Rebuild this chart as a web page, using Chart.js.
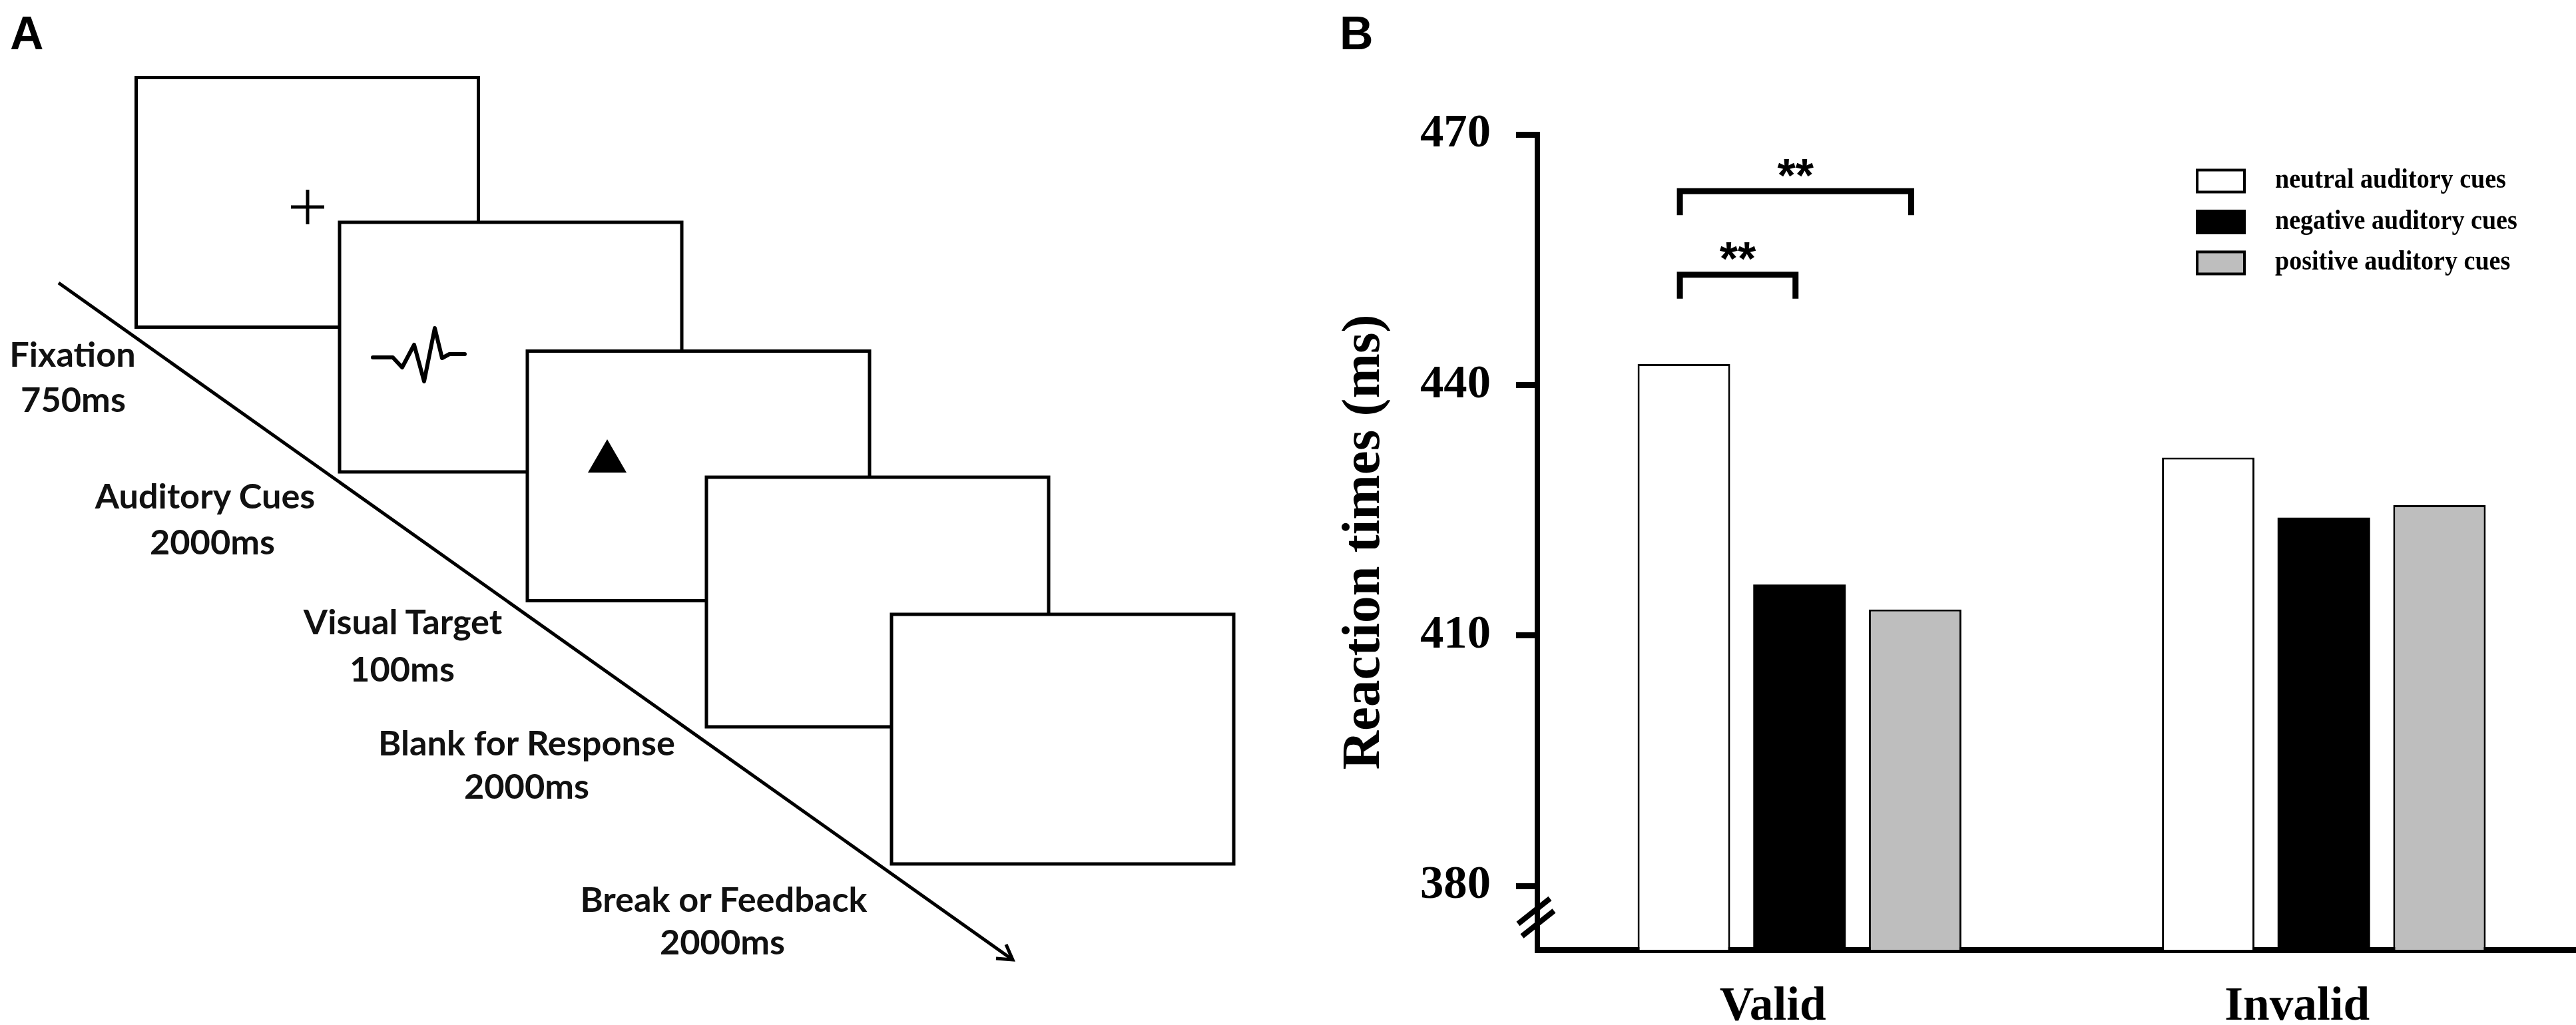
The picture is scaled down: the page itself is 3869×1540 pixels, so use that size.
<!DOCTYPE html>
<html>
<head>
<meta charset="utf-8">
<title>Reaction times by auditory cue</title>
<script src="https://cdn.jsdelivr.net/npm/chart.js@4.4.1/dist/chart.umd.min.js"></script>
<style>
  html, body { margin: 0; padding: 0; background: #fff; width: 3869px; height: 1540px; overflow: hidden; }
  #figure { position: absolute; left: 0; top: 0; }
  #panelB { position: absolute; left: 1900px; top: 0; width: 1984px; height: 1540px; }
</style>
</head>
<body>

<!-- Painel A: procedimento do ensaio (diagrama estático) + letras dos painéis -->
<svg id="figure" width="3869" height="1540" xmlns="http://www.w3.org/2000/svg">
  <g font-family="'Liberation Sans', Arial, sans-serif" font-weight="bold" font-size="70" fill="#000">
    <text x="15" y="74">A</text>
    <text x="2012" y="74">B</text>
  </g>

  <g fill="#fff" stroke="#000" stroke-width="5">
    <rect x="204.5" y="116.5" width="514" height="375"/>
    <rect x="510" y="334" width="514" height="375"/>
    <rect x="792" y="527.5" width="514" height="375"/>
    <rect x="1061" y="717" width="514" height="375"/>
    <rect x="1339" y="923" width="514" height="375"/>
  </g>

  <!-- cruz de fixação, onda sonora, alvo visual -->
  <path d="M437 311 H487 M462 285 V337" stroke="#000" stroke-width="5" fill="none"/>
  <polyline points="560,537 590,537 604,552 622,518 637,573 653,493 664,538 675,532 698,532"
            fill="none" stroke="#000" stroke-width="6" stroke-linejoin="round" stroke-linecap="round"/>
  <polygon points="912,660 883,710 941,710" fill="#000"/>

  <!-- seta do tempo -->
  <line x1="88" y1="425" x2="1521" y2="1442" stroke="#000" stroke-width="5"/>
  <path d="M1496 1440 L1521 1442 L1511 1419" fill="none" stroke="#000" stroke-width="5"/>

  <g id="stepText" font-family="Lato, 'Open Sans', sans-serif" font-weight="bold" font-size="53" fill="#111" text-anchor="middle">
    <text x="109" y="551">Fixation</text>
    <text x="110" y="619">750ms</text>
    <text x="308" y="764">Auditory Cues</text>
    <text x="319" y="833">2000ms</text>
    <text x="605" y="953">Visual Target</text>
    <text x="604" y="1024">100ms</text>
    <text x="791" y="1135">Blank for Response</text>
    <text x="791" y="1200">2000ms</text>
    <text x="1087" y="1370">Break or Feedback</text>
    <text x="1085" y="1434">2000ms</text>
  </g>
</svg>

<!-- Painel B: gráfico de barras -->
<div id="panelB"><canvas id="rtChart"></canvas></div>

<script>
// Dados (tempos de reação médios, ms)
const categories = ['Valid', 'Invalid'];
const seriesLabels = ['neutral auditory cues', 'negative auditory cues', 'positive auditory cues'];
const neutralRT = [442.5, 431.3];
const negativeRT = [416.1, 424.1];
const positiveRT = [413.1, 425.6];
const yTickValues = [380, 410, 440, 470];
const yMin = 372.35;   // eixo quebrado: a base do gráfico fica abaixo de 380
const yMax = 470;

// pares significativos (índices das séries dentro do grupo "Valid")
const sigPairs = [
  { a: 0, b: 2, at: 463.2, text: '**' },
  { a: 0, b: 1, at: 453.2, text: '**' }
];

const serif = "'Liberation Serif', 'Times New Roman', serif";
const sans = "'Liberation Sans', Arial, sans-serif";

// tamanho de fonte que faz o texto ocupar a largura medida na figura original
const measureCtx = document.createElement('canvas').getContext('2d');
function fitSize(text, family, target) {
  measureCtx.font = 'bold 100px ' + family;
  return 100 * target / measureCtx.measureText(text).width;
}

const tickSize = fitSize('440', serif, 106);
const xLabelSize = (fitSize('Valid', serif, 163) + fitSize('Invalid', serif, 214)) / 2;
const titleSize = fitSize('Reaction times (ms)', serif, 684);
const legendSize = fitSize('neutral auditory', serif, 268);

// texto do painel A com a mesma largura do original
const stepFont = "Lato, 'Open Sans', sans-serif";
const stepSize = (fitSize('Blank for Response', stepFont, 449) +
                  fitSize('Auditory Cues', stepFont, 330) +
                  fitSize('Break or Feedback', stepFont, 433)) / 3;
document.getElementById('stepText').setAttribute('font-size', stepSize.toFixed(1));

/* colchetes de significância com asteriscos */
const bracketPlugin = {
  id: 'sigBrackets',
  afterDatasetsDraw(chart) {
    const { ctx } = chart;
    const y = chart.scales.y;
    ctx.save();
    ctx.strokeStyle = '#000';
    ctx.fillStyle = '#000';
    ctx.lineWidth = 9;
    ctx.lineCap = 'butt';
    ctx.lineJoin = 'miter';
    ctx.font = 'bold 70px ' + sans;
    ctx.textAlign = 'center';
    ctx.textBaseline = 'alphabetic';
    sigPairs.forEach(p => {
      const x1 = chart.getDatasetMeta(p.a).data[0].x - 6;
      const x2 = chart.getDatasetMeta(p.b).data[0].x - 6;
      const yy = y.getPixelForValue(p.at);
      ctx.beginPath();
      ctx.moveTo(x1, yy + 36);
      ctx.lineTo(x1, yy);
      ctx.lineTo(x2, yy);
      ctx.lineTo(x2, yy + 36);
      ctx.stroke();
      const m = ctx.measureText(p.text);
      const glyphBottom = yy - 4.5 - 17;
      ctx.fillText(p.text, (x1 + x2) / 2, glyphBottom - m.actualBoundingBoxDescent);
    });
    ctx.restore();
  }
};

/* legenda no canto superior direito */
const legendPlugin = {
  id: 'cornerLegend',
  afterDraw(chart) {
    const { ctx } = chart;
    ctx.save();
    ctx.font = 'bold ' + legendSize.toFixed(1) + 'px ' + serif;
    ctx.textAlign = 'left';
    ctx.textBaseline = 'alphabetic';
    chart.data.datasets.forEach((ds, i) => {
      const cy = 272 + i * 61.5;
      const bx = 1398, bw = 75, bh = 37;
      ctx.fillStyle = ds.backgroundColor;
      ctx.fillRect(bx, cy - bh / 2, bw, bh);
      ctx.lineWidth = 4;
      ctx.strokeStyle = '#000';
      ctx.strokeRect(bx + 2, cy - bh / 2 + 2, bw - 4, bh - 4);
      // o texto original aparece ligeiramente esticado na vertical
      ctx.save();
      ctx.translate(1517, cy + 10);
      ctx.scale(1, 1.12);
      ctx.fillStyle = '#000';
      ctx.fillText(ds.label, 0, 0);
      ctx.restore();
    });
    ctx.restore();
  }
};

/* marca de quebra do eixo Y */
const axisBreakPlugin = {
  id: 'axisBreak',
  afterDraw(chart) {
    const { ctx, chartArea } = chart;
    ctx.save();
    ctx.strokeStyle = '#000';
    ctx.lineWidth = 8;
    [[-5, -58], [1, -39.5]].forEach(([dx, dy]) => {
      const cx = chartArea.left + dx;
      const cy = chartArea.bottom + dy;
      ctx.beginPath();
      ctx.moveTo(cx - 24, cy + 19);
      ctx.lineTo(cx + 24, cy - 19);
      ctx.stroke();
    });
    ctx.restore();
  }
};

document.addEventListener('DOMContentLoaded', () => {
  const ctx = document.getElementById('rtChart');

  const barStyle = {
    borderColor: '#000',
    borderWidth: 3,
    categoryPercentage: 0.6616,
    barPercentage: 0.8,
    base: yMin
  };

  new Chart(ctx.getContext('2d'), {
    type: 'bar',
    data: {
      labels: categories,
      datasets: [
        { label: seriesLabels[0], data: neutralRT, backgroundColor: '#ffffff', ...barStyle },
        { label: seriesLabels[1], data: negativeRT, backgroundColor: '#000000', ...barStyle, borderWidth: 0 },
        { label: seriesLabels[2], data: positiveRT, backgroundColor: '#bebebe', ...barStyle }
      ]
    },
    options: {
      responsive: true,
      maintainAspectRatio: false,
      devicePixelRatio: 1,
      animation: false,
      layout: { padding: { top: 202, right: 0, bottom: 0, left: 0 } },
      plugins: {
        legend: { display: false },
        tooltip: { enabled: false }
      },
      scales: {
        x: {
          z: 1,
          grid: { display: false },
          border: { display: true, color: '#000', width: 9 },
          ticks: {
            color: '#000',
            padding: 103 - 0.94 * xLabelSize,
            labelOffset: -40,
            font: { family: serif, size: xLabelSize, weight: 'bold' }
          },
          afterFit: scale => { scale.height = 113; }
        },
        y: {
          min: yMin,
          max: yMax,
          afterBuildTicks: scale => { scale.ticks = yTickValues.map(v => ({ value: v })); },
          grid: {
            display: true,
            drawOnChartArea: false,
            drawTicks: true,
            tickLength: 32,
            tickWidth: 9,
            tickColor: '#000'
          },
          border: { display: true, color: '#000', width: 8 },
          ticks: {
            color: '#000',
            padding: 38,
            font: { family: serif, size: tickSize, weight: 'bold' }
          },
          title: {
            display: true,
            text: 'Reaction times (ms)',
            color: '#000',
            padding: { top: 150 - 0.6 * titleSize, bottom: 0 },
            font: { family: serif, size: titleSize, weight: 'bold' }
          },
          afterFit: scale => { scale.width = 409; }
        }
      }
    },
    plugins: [bracketPlugin, legendPlugin, axisBreakPlugin]
  });
});
</script>
</body>
</html>
